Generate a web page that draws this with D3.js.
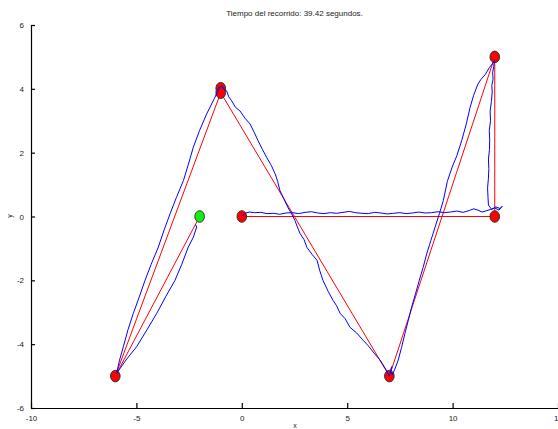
<!DOCTYPE html>
<html>
<head>
<meta charset="utf-8">
<script src="https://cdn.jsdelivr.net/npm/d3@7"></script>
<style>
  body { margin: 0; background: #fff; }
  svg { display: block; font-family: "Liberation Sans", Arial, sans-serif; }
</style>
</head>
<body>
<div id="chart"></div>
<script>
const titleText = "Tiempo del recorrido: 39.42 segundos.";
const xTicks = [-10, -5, 0, 5, 10, 15];
const yTicks = [-6, -4, -2, 0, 2, 4, 6];

// waypoints (red route)
const routeX = [0, 12, 12, 7, -1, -6, -2];
const routeY = [0, 0, 5, -5, 3.88, -5, 0];

// markers
const markerX = [0, 12, 12, 7, -1, -1, -6];
const markerY = [0, 0, 5, -5, 4.02, 3.88, -5];
const goal = [-2, 0];

// recorded trajectory (blue)
const pathX = [0, 0.15, 0.35, 0.6, 0.9, 1.2, 1.5, 1.8, 2.1, 2.4, 2.7, 3.0, 3.3, 3.6, 3.9, 4.2, 4.5, 4.8, 5.1,
  5.4, 5.7, 6.0, 6.3, 6.6, 6.9, 7.2, 7.5, 7.8, 8.1, 8.4, 8.7, 9.0, 9.3, 9.6, 9.9, 10.2, 10.5, 10.8, 11.0,
  11.2, 11.4, 11.6, 11.8, 12.0, 12.2, 12.35, 12.25, 12.05, 11.85, 11.7, 11.68, 11.66, 11.7, 11.72, 11.7,
  11.75, 11.76, 11.74, 11.8, 11.78, 11.84, 11.88, 11.86, 11.92, 11.9, 11.95, 11.98,
  11.93, 11.75, 11.55, 11.35, 11.2, 11.0, 10.83, 10.65, 10.43, 10.2, 9.98, 9.75, 9.56, 9.38, 9.17, 8.97,
  8.77, 8.6, 8.42, 8.25, 8.06, 7.9, 7.74, 7.58, 7.42, 7.28, 7.15, 7.05, 7.12, 7.0,
  6.8, 6.56, 6.3, 6.0, 5.75, 5.45, 5.13, 4.9, 4.66, 4.5, 4.33, 4.1, 3.85, 3.7, 3.57, 3.35, 3.09, 2.95,
  2.76, 2.62, 2.52, 2.35, 2.19, 2.0, 1.81, 1.7, 1.58, 1.4, 1.18, 0.98, 0.77, 0.6, 0.39, 0.15, -0.09,
  -0.3, -0.48, -0.62, -0.72, -0.85, -0.95, -1.05,
  -1.3, -1.67, -2.0, -2.3, -2.55, -2.77, -3.1, -3.4, -3.7, -3.96, -4.3, -4.59, -4.88, -5.15, -5.4,
  -5.62, -5.8, -5.94,
  -5.5, -4.99, -4.5, -4.04, -3.6, -3.17, -2.85, -2.54, -2.3, -2.14, -2.2];
const pathY = [0, 0.1, 0.14, 0.12, 0.13, 0.09, 0.1, 0.07, 0.11, 0.12, 0.09, 0.13, 0.15, 0.11, 0.09, 0.12,
  0.1, 0.13, 0.16, 0.12, 0.1, 0.09, 0.13, 0.11, 0.08, 0.1, 0.12, 0.09, 0.11, 0.14, 0.11, 0.12, 0.15, 0.12,
  0.14, 0.17, 0.13, 0.19, 0.24, 0.2, 0.14, 0.18, 0.22, 0.27, 0.2, 0.32, 0.25, 0.3, 0.22, 0.36, 0.6,
  0.9, 1.2, 1.5, 1.8, 2.1, 2.4, 2.7, 3.0, 3.3, 3.6, 3.9, 4.1, 4.3, 4.5, 4.7, 4.88,
  4.82, 4.67, 4.45, 4.3, 4.15, 3.8, 3.42, 2.9, 2.375, 1.9, 1.55, 1.1, 0.5, 0.1, -0.33, -0.75,
  -1.17, -1.6, -2.0, -2.4, -2.83, -3.25, -3.66, -4.1, -4.5, -4.75, -4.95, -4.85, -4.7, -5.0,
  -4.75, -4.5, -4.3, -4.05, -3.875, -3.65, -3.47, -3.2, -3.03, -2.8, -2.63, -2.35, -2.0, -1.7, -1.375,
  -1.2, -0.97, -0.72, -0.53, -0.3, -0.125, 0.1, 0.28, 0.55, 0.81, 1.1, 1.34, 1.6, 1.85, 2.1, 2.375,
  2.62, 2.9, 3.08, 3.31, 3.42, 3.625, 3.75, 3.94, 3.98, 4.1, 4.05,
  3.7, 3.21, 2.7, 2.17, 1.6, 1.125, 0.6, 0.09, -0.45, -0.96, -1.5, -2.0, -2.55, -3.04, -3.55,
  -4.08, -4.5, -4.92,
  -4.5, -4.08, -3.55, -3.04, -2.5, -2.0, -1.5, -0.96, -0.65, -0.33, -0.25];

const W = 558, H = 429;
const x = d3.scaleLinear().domain([-10, 15]).range([31, 558]);
const y = d3.scaleLinear().domain([-6, 6]).range([408, 25]);

const svg = d3.select("#chart").append("svg").attr("width", W).attr("height", H);

// axes (plain hyphen for negatives, like the original)
const fmt = d => String(d);
const xAxis = svg.append("g").attr("transform", "translate(0,408)")
  .call(d3.axisBottom(x).tickValues(xTicks).tickFormat(fmt).tickSizeInner(-5).tickSizeOuter(0).tickPadding(7));
const yAxis = svg.append("g").attr("transform", "translate(31,0)")
  .call(d3.axisLeft(y).tickValues(yTicks).tickFormat(fmt).tickSizeInner(-4).tickSizeOuter(0).tickPadding(7));
[xAxis, yAxis].forEach(g => {
  g.select(".domain").attr("stroke", "#000").attr("stroke-width", 1.2);
  g.selectAll(".tick line").attr("stroke", "#000").attr("stroke-width", 1.2);
  g.selectAll(".tick text").attr("fill", "#222").style("font-size", "8px");
});

svg.append("text").attr("x", (31 + 558) / 2).attr("y", 16).attr("text-anchor", "middle")
  .style("font-size", "8px").attr("fill", "#222").text(titleText);
svg.append("text").attr("x", 295).attr("y", 428).attr("text-anchor", "middle")
  .style("font-size", "7px").attr("fill", "#222").text("x");
svg.append("text").attr("transform", "translate(12,216) rotate(-90)").attr("text-anchor", "middle")
  .style("font-size", "7px").attr("fill", "#222").text("y");

const line = d3.line().x(d => x(d[0])).y(d => y(d[1]));

// red route
svg.append("path").datum(d3.zip(routeX, routeY)).attr("d", line)
  .attr("fill", "none").attr("stroke", "#ff0000").attr("stroke-width", 1);

// markers
svg.selectAll(".wp").data(d3.zip(markerX, markerY)).enter().append("ellipse")
  .attr("cx", d => x(d[0])).attr("cy", d => y(d[1])).attr("rx", 4.8).attr("ry", 5.8)
  .attr("fill", "#ff0000").attr("stroke", "#333").attr("stroke-width", 1);
svg.append("ellipse").attr("cx", x(goal[0])).attr("cy", y(goal[1])).attr("rx", 4.8).attr("ry", 5.8)
  .attr("fill", "#11ee11").attr("stroke", "#333").attr("stroke-width", 1);

// blue trajectory
svg.append("path").datum(d3.zip(pathX, pathY)).attr("d", line)
  .attr("fill", "none").attr("stroke", "#0000ff").attr("stroke-width", 1)
  .attr("stroke-linejoin", "round");
</script>
</body>
</html>
